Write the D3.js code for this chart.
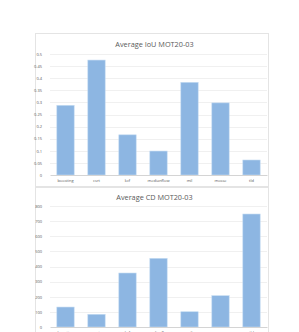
<!DOCTYPE html>
<html>
<head>
<meta charset="utf-8">
<script src="https://d3js.org/d3.v7.min.js"></script>
<style>
  body { margin: 0; background: #fff; }
  svg { display: block; }
</style>
</head>
<body>
<div id="chart"></div>
<script>
var width = 299, height = 332;

var trackers = ["boosting", "csrt", "kcf", "medianflow", "mil", "mosse", "tld"];
var iouValues = [0.288, 0.475, 0.166, 0.099, 0.383, 0.298, 0.062];
var cdValues = [132, 84, 357, 454, 101, 207, 747];
var iouTicks = [0, 0.05, 0.1, 0.15, 0.2, 0.25, 0.3, 0.35, 0.4, 0.45, 0.5];
var cdTicks = [0, 100, 200, 300, 400, 500, 600, 700, 800];

var barColor = "#8db6e2";
var textColor = "#595959";

var svg = d3.select("#chart").append("svg")
    .attr("width", width)
    .attr("height", height);

function drawChart(box, title, values, ticks, fmt) {
    var g = svg.append("g").attr("transform", "translate(" + box.x + "," + box.y + ")");

    g.append("rect")
        .attr("x", 0.5).attr("y", 0.5)
        .attr("width", box.w).attr("height", box.h)
        .attr("fill", "#fff")
        .attr("stroke", "#e4e4e4")
        .attr("stroke-width", 1);

    g.append("text")
        .attr("x", box.w / 2 + 3)
        .attr("y", box.titleY)
        .attr("text-anchor", "middle")
        .style("font-family", "'Open Sans', 'Noto Sans', sans-serif")
        .style("font-size", "7.3px")
        .style("fill", textColor)
        .text(title);

    var x = d3.scaleBand()
        .domain(trackers)
        .range([box.left, box.right])
        .paddingInner(0.44)
        .paddingOuter(0.22);

    var y = d3.scaleLinear()
        .domain([0, ticks[ticks.length - 1]])
        .range([box.bottom, box.top]);

    // grid
    g.append("g").selectAll("line")
        .data(ticks.slice(1))
        .enter().append("line")
        .attr("x1", box.left).attr("x2", box.right)
        .attr("y1", d => Math.round(y(d)) + 0.5)
        .attr("y2", d => Math.round(y(d)) + 0.5)
        .attr("stroke", "#f0f0f0")
        .attr("stroke-width", 1);

    var yAxis = d3.axisLeft(y).tickValues(ticks).tickSize(0).tickPadding(8).tickFormat(fmt);
    var ya = g.append("g").attr("transform", "translate(" + box.left + ",0)").call(yAxis);
    ya.select(".domain").remove();
    ya.selectAll("text")
        .style("font-family", "'Open Sans', 'Noto Sans', sans-serif")
        .style("font-size", "4px")
        .style("fill", textColor);

    g.append("g").selectAll("rect")
        .data(values)
        .enter().append("rect")
        .attr("x", (d, i) => x(trackers[i]))
        .attr("y", d => y(d))
        .attr("width", x.bandwidth())
        .attr("height", d => y(0) - y(d))
        .attr("fill", barColor)
        .attr("stroke", "#c5dcf2")
        .attr("stroke-width", 0.6);

    var xAxis = d3.axisBottom(x).tickSize(0).tickPadding(4);
    var xa = g.append("g").attr("transform", "translate(0," + box.bottom + ")").call(xAxis);
    xa.select(".domain").attr("stroke", "#d4d4d4");
    xa.selectAll("text")
        .style("font-family", "'Open Sans', 'Noto Sans', sans-serif")
        .style("font-size", "4px")
        .style("fill", textColor);
}

drawChart({ x: 35, y: 33, w: 233, h: 153, titleY: 14, left: 15, right: 232, top: 21, bottom: 142 },
    "Average IoU MOT20-03", iouValues, iouTicks, d3.format(""));

drawChart({ x: 35, y: 187, w: 233, h: 160, titleY: 13, left: 15, right: 232, top: 19, bottom: 140 },
    "Average CD MOT20-03", cdValues, cdTicks, d3.format(""));
</script>
</body>
</html>
